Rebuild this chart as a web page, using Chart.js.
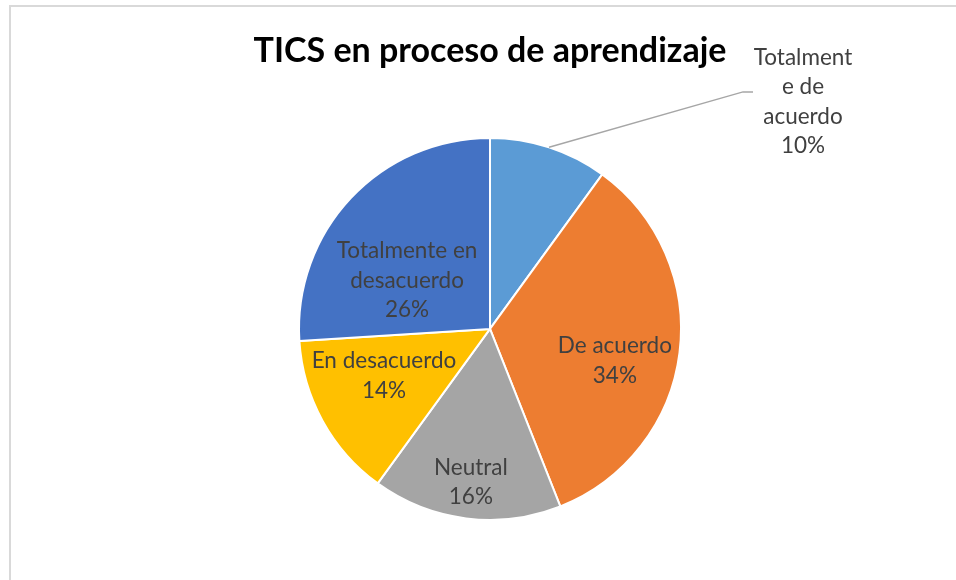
<!DOCTYPE html>
<html lang="es">
<head>
<meta charset="UTF-8">
<title>TICS en proceso de aprendizaje</title>
<script src="https://cdn.jsdelivr.net/npm/chart.js"></script>
<style>
  body { margin: 0; background: #fff; }
  .frame { position: absolute; left: 9px; top: 5px; width: 1000px; height: 1000px; border: 2px solid #d9d9d9; }
  .wrap { position: absolute; left: 0; top: 0; width: 956px; height: 580px; }
</style>
</head>
<body>
<div class="frame"></div>
<div class="wrap"><canvas id="pie"></canvas></div>
<script>
const categories = ["Totalmente de acuerdo", "De acuerdo", "Neutral", "En desacuerdo", "Totalmente en desacuerdo"];
const values = [10, 34, 16, 14, 26];
const colors = ["#5B9BD5", "#ED7D31", "#A5A5A5", "#FFC000", "#4472C4"];
// how Excel wrapped each category name
const labelLines = [["Totalment", "e de", "acuerdo"], ["De acuerdo"], ["Neutral"], ["En desacuerdo"], ["Totalmente en", "desacuerdo"]];

// draws name + percentage for each slice
const sliceLabels = {
  id: 'sliceLabels',
  afterDatasetsDraw(chart, args, opts) {
    const ctx = chart.ctx;
    const meta = chart.getDatasetMeta(0);
    const total = values.reduce((a, b) => a + b, 0);
    ctx.save();
    ctx.font = opts.font;
    ctx.textAlign = 'center';
    ctx.textBaseline = 'middle';
    meta.data.forEach((arc, i) => {
      const lines = labelLines[i].concat([Math.round(values[i] / total * 100) + '%']);
      const p = opts.place[i];
      let cx, cy;
      if (p.out) {
        const mid = (arc.startAngle + arc.endAngle) / 2;
        const ex = arc.x + Math.cos(mid) * arc.outerRadius;
        const ey = arc.y + Math.sin(mid) * arc.outerRadius;
        ctx.strokeStyle = '#a6a6a6';
        ctx.lineWidth = 1.5;
        ctx.beginPath();
        ctx.moveTo(ex, ey);
        ctx.lineTo(arc.x + p.elbowX, arc.y + p.elbowY);
        ctx.lineTo(arc.x + p.elbowX + 10, arc.y + p.elbowY);
        ctx.stroke();
        cx = arc.x + p.dx;
        cy = arc.y + p.dy;
      } else {
        const a = (p.angle - 90) * Math.PI / 180;
        cx = arc.x + Math.cos(a) * arc.outerRadius * p.frac;
        cy = arc.y + Math.sin(a) * arc.outerRadius * p.frac;
      }
      ctx.fillStyle = opts.color;
      const lh = opts.lineHeight;
      const y0 = cy - (lines.length - 1) * lh / 2;
      lines.forEach((t, k) => ctx.fillText(t, cx, y0 + k * lh));
    });
    ctx.restore();
  }
};

new Chart(document.getElementById('pie'), {
  type: 'pie',
  data: {
    labels: categories,
    datasets: [{
      data: values,
      backgroundColor: colors,
      borderColor: '#ffffff',
      borderWidth: 2,
      radius: 191
    }]
  },
  options: {
    responsive: true,
    maintainAspectRatio: false,
    animation: false,
    layout: { padding: { left: 24, bottom: 24 } },
    plugins: {
      legend: { display: false },
      tooltip: { enabled: false },
      title: {
        display: true,
        text: 'TICS en proceso de aprendizaje',
        color: '#000000',
        font: { family: 'Lato', size: 34, weight: 'bold' },
        padding: { top: 31, bottom: 30 }
      },
      sliceLabels: {
        font: '22.5px Lato',
        color: '#404040',
        lineHeight: 29.5,
        place: [
          { out: true, elbowX: 253, elbowY: -237, dx: 313, dy: -227 },
          { angle: 104.4, frac: 0.675 },
          { angle: 187.1, frac: 0.81 },
          { angle: 246.1, frac: 0.607 },
          { angle: 300.3, frac: 0.503 }
        ]
      }
    }
  },
  plugins: [sliceLabels]
});
</script>
</body>
</html>
